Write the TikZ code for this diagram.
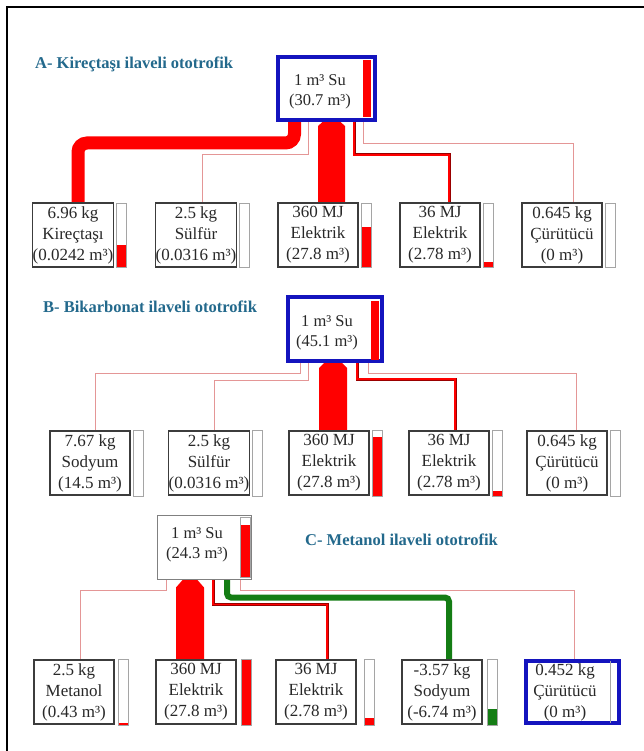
\documentclass[tikz,border=0pt]{standalone}
\usepackage{fontspec}
\setmainfont{Liberation Serif}
\usetikzlibrary{backgrounds}
\definecolor{titlec}{RGB}{35,105,140}
\definecolor{frameblue}{RGB}{20,20,190}
\definecolor{pinkc}{RGB}{228,150,150}
\definecolor{greenc}{RGB}{20,125,20}
\definecolor{boxgray}{RGB}{60,60,60}
\definecolor{sidegray}{RGB}{165,165,165}
\definecolor{txt}{RGB}{40,40,40}
\newcommand\sbar[5]{% left x, top y, bottom y, fill height, colour
  \fill[#5] (#1,#3) rectangle ++(10,-#4);
  \draw[sidegray, line width=0.8pt] (#1,#2) rectangle ++(10,#3-#2);}
\newcommand\tbar[5]{% top coord, bottom coord, half width, top half width, shoulder
  \fill[red] ([xshift=-#3pt]#2) -- ([xshift=-#3pt,yshift=-#5pt]#1) -- ([xshift=-#4pt]#1)
    -- ([xshift=#4pt]#1) -- ([xshift=#3pt,yshift=-#5pt]#1) -- ([xshift=#3pt]#2) -- cycle;}
\begin{document}
\begin{tikzpicture}[x=1pt,y=-1pt,
  ttl/.style={font=\fontsize{16.5}{20}\selectfont\bfseries, text=titlec, inner sep=0pt, anchor=west},
  rowbox/.style={draw=boxgray, line width=1.3pt, fill=white, minimum width=80pt, minimum height=64pt,
    inner sep=0pt, align=center, text=txt, font=\fontsize{17}{21}\selectfont},
  sutext/.style={inner sep=0pt, align=center, text=txt, font=\fontsize{16.5}{20}\selectfont},
  bluebox/.style={draw=frameblue, line width=4pt, inner sep=0pt},
  pinkl/.style={draw=pinkc, line width=1pt},
  medl/.style={draw=red, line width=1.6pt, preaction={draw=red!60!black, line width=3pt}},
  thickr/.style={draw=red, line width=13pt, rounded corners=9pt},
  greenl/.style={draw=greenc, line width=6pt, rounded corners=4pt}]
\useasboundingbox (0,0) rectangle (644,751);
% titles
\node[ttl] (tA) at (35,64) {A- Kireçtaşı ilaveli ototrofik};
\node[ttl] (tB) at (43,307) {B- Bikarbonat ilaveli ototrofik};
\node[ttl] (tC) at (305,540) {C- Metanol ilaveli ototrofik};
% ---------- A ----------
\node[bluebox, minimum width=97pt, minimum height=63pt] (suA) at (326.5,88.5) {};
\fill[red] (363,60) rectangle (371,117);
\node[sutext] (suAt) at (320,92) {1 m³ Su\\(30.7 m³)};
\node[rowbox] (a1) at (73,235) {6.96 kg\\Kireçtaşı\\(0.0242 m³)};
\node[rowbox] (a2) at (196,235) {2.5 kg\\Sülfür\\(0.0316 m³)};
\node[rowbox] (a3) at (318,235) {360 MJ\\Elektrik\\(27.8 m³)};
\node[rowbox] (a4) at (440,235) {36 MJ\\Elektrik\\(2.78 m³)};
\node[rowbox] (a5) at (562,235) {0.645 kg\\Çürütücü\\(0 m³)};
\sbar{116}{203}{267}{22}{red}
\sbar{239}{203}{267}{0}{white}
\sbar{361}{203}{267}{40}{red}
\sbar{483}{203}{267}{5}{red}
\sbar{605}{203}{267}{0}{white}
% ---------- B ----------
\node[bluebox, minimum width=94pt, minimum height=64pt] (suB) at (335,329) {};
\fill[red] (371,301) rectangle (379,360);
\node[sutext] (suBt) at (327,333) {1 m³ Su\\(45.1 m³)};
\begin{scope}[every node/.append style={minimum height=66pt}]
\node[rowbox] (b1) at (90,463) {7.67 kg\\Sodyum\\(14.5 m³)};
\node[rowbox] (b2) at (209,463) {2.5 kg\\Sülfür\\(0.0316 m³)};
\node[rowbox] (b3) at (329,463) {360 MJ\\Elektrik\\(27.8 m³)};
\node[rowbox] (b4) at (449,463) {36 MJ\\Elektrik\\(2.78 m³)};
\node[rowbox] (b5) at (567,463) {0.645 kg\\Çürütücü\\(0 m³)};
\end{scope}
\sbar{133}{430}{496}{0}{white}
\sbar{252}{430}{496}{0}{white}
\sbar{372}{430}{496}{59}{red}
\sbar{492}{430}{496}{5}{red}
\sbar{610}{430}{496}{0}{white}
% ---------- C ----------
\node[draw=gray, line width=1pt, minimum width=94pt, minimum height=64pt, inner sep=0pt] (suC) at (204,547) {};
\sbar{240}{517}{577}{52}{red}
\node[sutext] (suCt) at (197,545) {1 m³ Su\\(24.3 m³)};
\begin{scope}[every node/.append style={minimum height=66pt}]
\node[rowbox] (c1) at (74,692) {2.5 kg\\Metanol\\(0.43 m³)};
\node[rowbox] (c2) at (196,692) {360 MJ\\Elektrik\\(27.8 m³)};
\node[rowbox] (c3) at (316,692) {36 MJ\\Elektrik\\(2.78 m³)};
\node[rowbox] (c4) at (442,692) {-3.57 kg\\Sodyum\\(-6.74 m³)};
\end{scope}
\sbar{118}{659}{725}{2}{red}
\sbar{241}{659}{725}{66}{red}
\sbar{364}{659}{725}{7}{red}
\sbar{487}{659}{725}{16}{greenc}
\node[bluebox, minimum width=93pt, minimum height=62pt] (c5) at (572.5,692) {};
\draw[sidegray, line width=0.8pt] (610,661) -- (610,723);
\node[sutext, font=\fontsize{17}{21}\selectfont] (c5t) at (565,692) {0.452 kg\\Çürütücü\\(0 m³)};
% ---------- background: frame and connectors ----------
\begin{scope}[on background layer]
\fill[white] (0,0) rectangle (644,751);
\draw[line width=2.5pt] (7,751) -- (7,7) -- (644,7);
% A
\draw[thickr] ([xshift=-32pt]suA.south) -- ++(0,21) -| ([xshift=5pt]a1.north);
\draw[pinkl] ([xshift=-18.5pt]suA.south) -- ++(0,33) -| ([xshift=6pt]a2.north);
\coordinate (a3t) at ([xshift=5pt]suA.south);
\coordinate (a3b) at ([xshift=13.5pt]a3.north);
\tbar{a3t}{a3b}{13.5}{9}{4}
\draw[medl] ([xshift=27.5pt]suA.south) -- ++(0,33) -| ([xshift=9pt]a4.north);
\draw[pinkl] ([xshift=36.5pt]suA.south) -- ++(0,22) -| ([xshift=11pt]a5.north);
% B
\draw[pinkl] ([xshift=-35pt]suB.south) -- ++(0,10) -| ([xshift=5pt]b1.north);
\draw[pinkl] ([xshift=-27pt]suB.south) -- ++(0,17) -| ([xshift=5pt]b2.north);
\coordinate (b3t) at ([xshift=-2pt]suB.south);
\coordinate (b3b) at ([xshift=4pt]b3.north);
\tbar{b3t}{b3b}{14}{9}{5}
\draw[medl] ([xshift=22pt]suB.south) -- ++(0,16) -| ([xshift=6pt]b4.north);
\draw[pinkl] ([xshift=33pt]suB.south) -- ++(0,10) -| ([xshift=9pt]b5.north);
% C
\draw[pinkl] ([xshift=-38pt]suC.south) -- ++(0,11) -| ([xshift=6pt]c1.north);
\coordinate (c2t) at ([xshift=-14pt]suC.south);
\coordinate (c2b) at ([xshift=-6pt]c2.north);
\tbar{c2t}{c2b}{14}{7}{8}
\draw[medl] ([xshift=9pt]suC.south) -- ++(0,25) -| ([xshift=11pt]c3.north);
\draw[greenl] ([xshift=23pt]suC.south) -- ++(0,18) -| ([xshift=7pt]c4.north);
\draw[pinkl] ([xshift=36pt]suC.south) -- ++(0,11) -| ([xshift=1.5pt]c5.north);
\end{scope}
\end{tikzpicture}
\end{document}
